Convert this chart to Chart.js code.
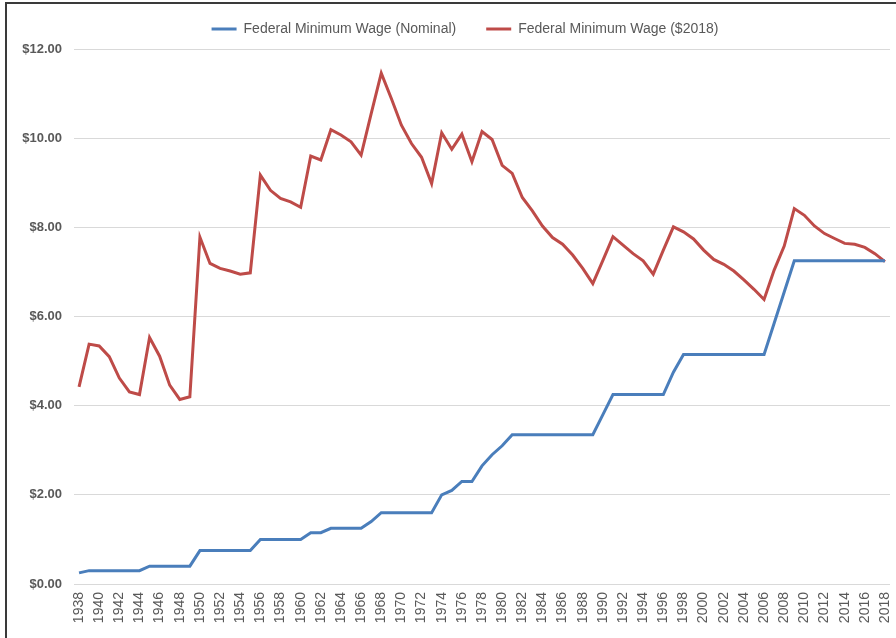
<!DOCTYPE html>
<html>
<head>
<meta charset="utf-8">
<script src="https://cdn.jsdelivr.net/npm/chart.js@4.4.0/dist/chart.umd.min.js"></script>
<style>
  html, body { margin: 0; padding: 0; background: #fff; }
  #wrap { position: relative; width: 896px; height: 638px; }
  #frame { position: absolute; left: 5px; top: 2px; right: 0; bottom: 0;
           border-left: 2px solid #3a3a3a; border-top: 2px solid #3a3a3a; pointer-events: none; }
</style>
</head>
<body>
<div id="wrap">
  <canvas id="wage"></canvas>
  <div id="frame"></div>
</div>
<script>
// years 1938..2018
var years = [];
for (var y = 1938; y <= 2018; y++) years.push(String(y));

// federal minimum wage, nominal dollars
var nominal = [
  0.25, 0.30, 0.30, 0.30, 0.30, 0.30, 0.30, 0.40, 0.40, 0.40, 0.40, 0.40,   // 1938-1949
  0.75, 0.75, 0.75, 0.75, 0.75, 0.75, 1.00, 1.00, 1.00, 1.00, 1.00,         // 1950-1960
  1.15, 1.15, 1.25, 1.25, 1.25, 1.25, 1.40, 1.60, 1.60, 1.60, 1.60, 1.60, 1.60, // 1961-1973
  2.00, 2.10, 2.30, 2.30, 2.65, 2.90, 3.10,                                 // 1974-1980
  3.35, 3.35, 3.35, 3.35, 3.35, 3.35, 3.35, 3.35, 3.35,                     // 1981-1989
  3.80, 4.25, 4.25, 4.25, 4.25, 4.25, 4.25, 4.75,                           // 1990-1997
  5.15, 5.15, 5.15, 5.15, 5.15, 5.15, 5.15, 5.15, 5.15,                     // 1998-2006
  5.85, 6.55, 7.25, 7.25, 7.25, 7.25, 7.25, 7.25, 7.25, 7.25, 7.25, 7.25    // 2007-2018
];

// federal minimum wage in 2018 dollars
var real2018 = [
  4.42, 5.38, 5.34, 5.10, 4.62, 4.31, 4.25, 5.53, 5.11, 4.46, 4.14, 4.20,   // 1938-1949
  7.78, 7.19, 7.08, 7.02, 6.95, 6.98, 9.17, 8.83, 8.65, 8.57, 8.45,         // 1950-1960
  9.60, 9.51, 10.19, 10.07, 9.92, 9.62, 10.55, 11.46, 10.89, 10.29, 9.88, 9.57, 8.98, // 1961-1973
  10.12, 9.75, 10.09, 9.47, 10.15, 9.97, 9.39,                              // 1974-1980
  9.21, 8.67, 8.37, 8.03, 7.77, 7.62, 7.38, 7.08, 6.74,                     // 1981-1989
  7.26, 7.79, 7.60, 7.41, 7.25, 6.95, 7.49, 8.01,                           // 1990-1997
  7.90, 7.74, 7.49, 7.28, 7.17, 7.02, 6.82, 6.61, 6.38,                     // 1998-2006
  7.04, 7.58, 8.42, 8.27, 8.03, 7.86, 7.75, 7.64, 7.62, 7.55, 7.41, 7.23    // 2007-2018
];

var seriesNames = ['Federal Minimum Wage (Nominal)', 'Federal Minimum Wage ($2018)'];
var seriesColors = ['#4a7ebb', '#be4b48'];

var canvas = document.getElementById('wage');
canvas.width = 896;
canvas.height = 638;

var FONT = '"Liberation Sans", Arial, sans-serif';

// nudge the legend so it sits where the reference has it
var legendNudge = {
  id: 'legendNudge',
  afterLayout: function (chart) {
    var lg = chart.legend;
    if (!lg) return;
    lg.top -= 3; lg.bottom -= 3;
    lg.left += 20; lg.right += 20;
  }
};

new Chart(canvas.getContext('2d'), {
  type: 'line',
  data: {
    labels: years,
    datasets: [
      {
        label: seriesNames[0],
        data: nominal,
        borderColor: seriesColors[0],
        backgroundColor: seriesColors[0],
        borderWidth: 3,
        pointRadius: 0,
        tension: 0,
        fill: false
      },
      {
        label: seriesNames[1],
        data: real2018,
        borderColor: seriesColors[1],
        backgroundColor: seriesColors[1],
        borderWidth: 3,
        pointRadius: 0,
        tension: 0,
        fill: false
      }
    ]
  },
  plugins: [legendNudge],
  options: {
    responsive: false,
    animation: false,
    layout: { padding: { left: 0, right: 6, top: -5, bottom: 0 } },
    plugins: {
      tooltip: { enabled: false },
      legend: {
        position: 'top',
        labels: {
          color: '#595959',
          font: { family: FONT, size: 14 },
          boxWidth: 25,
          boxHeight: 3,
          padding: 30,
          generateLabels: function (chart) {
            return Chart.defaults.plugins.legend.labels.generateLabels(chart).map(function (l) {
              l.lineWidth = 0;
              l.fillStyle = l.strokeStyle;
              return l;
            });
          }
        }
      }
    },
    scales: {
      x: {
        offset: true,
        grid: { display: false, drawTicks: false },
        border: { display: false },
        ticks: {
          autoSkip: false,
          minRotation: 90,
          maxRotation: 90,
          padding: 8,
          color: '#595959',
          font: { family: FONT, size: 14 },
          callback: function (val, i) { return i % 2 === 0 ? this.getLabelForValue(val) : ''; }
        },
        afterFit: function (s) {
          s.height = 54;
          s.paddingLeft = 0;
          s.paddingRight = 0;
        }
      },
      y: {
        min: 0,
        max: 12,
        grid: { color: '#d9d9d9', lineWidth: 1, drawTicks: false },
        border: { display: false },
        ticks: {
          stepSize: 2,
          padding: 12,
          color: '#595959',
          font: { family: FONT, size: 13, weight: 'bold' },
          callback: function (v) { return '$' + v.toFixed(2); }
        },
        afterFit: function (s) { s.width = 74; }
      }
    }
  }
});
</script>
</body>
</html>
